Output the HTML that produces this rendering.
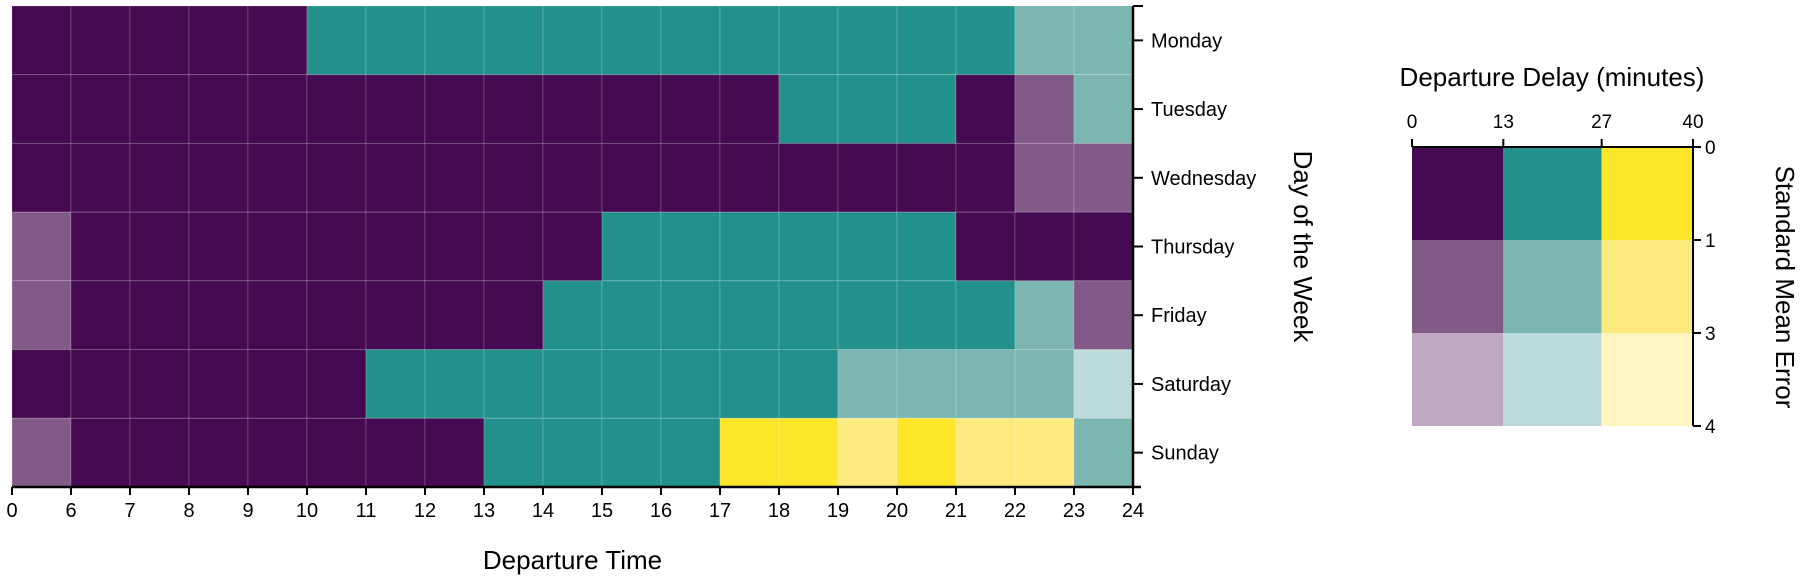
<!DOCTYPE html>
<html><head><meta charset="utf-8"><style>
html,body{margin:0;padding:0;background:#fff;}
svg{display:block;font-family:"Liberation Sans",Arial,sans-serif;}
</style></head><body>
<svg id="chart" width="1812" height="580"></svg>
<script>
const days = ["Monday","Tuesday","Wednesday","Thursday","Friday","Saturday","Sunday"];
const hourTicks = [0,6,7,8,9,10,11,12,13,14,15,16,17,18,19,20,21,22,23,24];
// delay class per column (0 = 0-13 min, 1 = 13-27, 2 = 27-40)
const delayClass = [
 [0,0,0,0,0,1,1,1,1,1,1,1,1,1,1,1,1,1,1],
 [0,0,0,0,0,0,0,0,0,0,0,0,0,1,1,1,0,0,1],
 [0,0,0,0,0,0,0,0,0,0,0,0,0,0,0,0,0,0,0],
 [0,0,0,0,0,0,0,0,0,0,1,1,1,1,1,1,0,0,0],
 [0,0,0,0,0,0,0,0,0,1,1,1,1,1,1,1,1,1,0],
 [0,0,0,0,0,0,1,1,1,1,1,1,1,1,1,1,1,1,1],
 [0,0,0,0,0,0,0,0,1,1,1,1,2,2,2,2,2,2,1]
];
// uncertainty class per column (0 = 0-1, 1 = 1-3, 2 = 3-4)
const errorClass = [
 [0,0,0,0,0,0,0,0,0,0,0,0,0,0,0,0,0,1,1],
 [0,0,0,0,0,0,0,0,0,0,0,0,0,0,0,0,0,1,1],
 [0,0,0,0,0,0,0,0,0,0,0,0,0,0,0,0,0,1,1],
 [1,0,0,0,0,0,0,0,0,0,0,0,0,0,0,0,0,0,0],
 [1,0,0,0,0,0,0,0,0,0,0,0,0,0,0,0,0,1,1],
 [0,0,0,0,0,0,0,0,0,0,0,0,0,0,1,1,1,1,2],
 [1,0,0,0,0,0,0,0,0,0,0,0,0,0,1,0,1,1,1]
];
const delayTicks = [0,13,27,40];
const errorTicks = [0,1,3,4];

const palette = [
 ["#450a51","#825a87","#c0a8c3"],
 ["#23918b","#7bb6b1","#bddbda"],
 ["#fde52a","#fdea7f","#fef5c0"]
];
const NS="http://www.w3.org/2000/svg";
const svg=document.getElementById('chart');
function mk(tag,attrs,parent){const e=document.createElementNS(NS,tag);for(const k in attrs)e.setAttribute(k,attrs[k]);(parent||svg).appendChild(e);return e;}

const X0=12,X1=1133,Y0=6,Y1=487;
const nCols=hourTicks.length-1;
const xCol=i=>X0+(X1-X0)*i/nCols;
const yRow=i=>Y0+(Y1-Y0)*i/days.length;

const cells=mk('g',{});


for(let r=0;r<days.length;r++){
 for(let c=0;c<nCols;c++){
  const rc=mk('rect',{x:xCol(c),y:yRow(r),width:xCol(c+1)-xCol(c),height:yRow(r+1)-yRow(r),fill:palette[delayClass[r][c]][errorClass[r][c]],stroke:"rgba(255,255,255,0.18)","stroke-width":1},cells);
  
  
 }
}
// x axis
const xa=mk('g',{});


mk('line',{x1:X0,y1:Y1,x2:X1+8,y2:Y1,stroke:"#000","stroke-width":2.5},xa);
hourTicks.forEach((h,i)=>{
 const x=xCol(i);
 mk('line',{x1:x,y1:Y1,x2:x,y2:Y1+8,stroke:"#000","stroke-width":2},xa);
 const t=mk('text',{x:x,y:517,"text-anchor":"middle","font-size":20,fill:"#000"},xa);
 t.textContent=h;
 
 
});
const xt=mk('text',{x:(X0+X1)/2,y:569,"text-anchor":"middle","font-size":26},xa);
xt.textContent="Departure Time";


// y axis (right)
const ya=mk('g',{});


mk('line',{x1:X1,y1:Y0,x2:X1,y2:Y1,stroke:"#000","stroke-width":2.5},ya);
mk('line',{x1:X1,y1:Y0,x2:X1+10,y2:Y0,stroke:"#000","stroke-width":2},ya);
days.forEach((d,i)=>{
 const y=(yRow(i)+yRow(i+1))/2;
 mk('line',{x1:X1,y1:y,x2:X1+10,y2:y,stroke:"#000","stroke-width":2},ya);
 const t=mk('text',{x:1151,y:y+7,"font-size":20},ya);
 t.textContent=d;
 
 
});
const yt=mk('text',{x:1294,y:(Y0+Y1)/2,"text-anchor":"middle","font-size":26,transform:`rotate(90 1294 ${(Y0+Y1)/2})`},ya);
yt.textContent="Day of the Week";



// legend
const LX0=1412,LX1=1693,LY0=147,LY1=426;
const lg=mk('g',{});


const lx=v=>LX0+(LX1-LX0)*v/delayTicks[delayTicks.length-1];
const ly=v=>LY0+(LY1-LY0)*errorTicks.indexOf(v)/(errorTicks.length-1);
for(let d=0;d<3;d++)for(let e=0;e<3;e++){
 const r=mk('rect',{x:lx(delayTicks[d]),y:ly(errorTicks[e]),width:lx(delayTicks[d+1])-lx(delayTicks[d]),height:ly(errorTicks[e+1])-ly(errorTicks[e]),fill:palette[d][e]},lg);
 
 
}
mk('line',{x1:LX0,y1:LY0,x2:LX1,y2:LY0,stroke:"#000","stroke-width":2},lg);
mk('line',{x1:LX1,y1:LY0,x2:LX1,y2:LY1,stroke:"#000","stroke-width":2},lg);
delayTicks.forEach(v=>{
 const x=lx(v);
 mk('line',{x1:x,y1:LY0,x2:x,y2:LY0-8,stroke:"#000","stroke-width":2},lg);
 const t=mk('text',{x:x,y:128,"text-anchor":"middle","font-size":19},lg);
 t.textContent=v;
 
 
});
errorTicks.forEach(v=>{
 const y=ly(v);
 mk('line',{x1:LX1,y1:y,x2:LX1+8,y2:y,stroke:"#000","stroke-width":2},lg);
 const t=mk('text',{x:1705,y:y+7,"font-size":19},lg);
 t.textContent=v;
 
 
});
const lt=mk('text',{x:1552,y:86,"text-anchor":"middle","font-size":26},lg);
lt.textContent="Departure Delay (minutes)";


const le=mk('text',{x:1776,y:287,"text-anchor":"middle","font-size":26,transform:"rotate(90 1776 287)"},lg);
le.textContent="Standard Mean Error";


</script>
</body></html>
